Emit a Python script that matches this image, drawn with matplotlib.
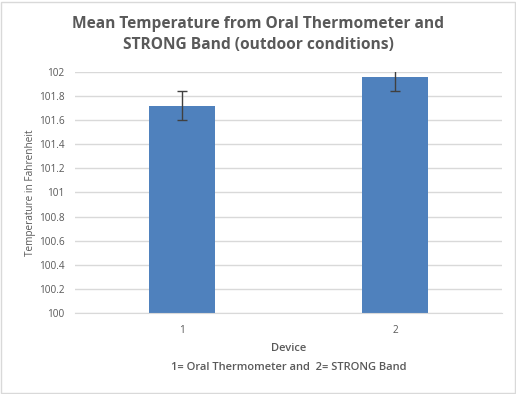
import matplotlib

matplotlib.use("Agg")
import matplotlib.pyplot as plt
from matplotlib.patches import Rectangle

devices = ["1", "2"]
means = [101.72, 101.96]
errors = [0.12, 0.12]
yticks = [100, 100.2, 100.4, 100.6, 100.8, 101, 101.2, 101.4, 101.6, 101.8, 102]
ytick_labels = ["100", "100.2", "100.4", "100.6", "100.8", "101", "101.2", "101.4", "101.6", "101.8", "102"]

plt.rcParams["font.family"] = ["Open Sans", "DejaVu Sans"]
text_col = "#595959"

fig = plt.figure(figsize=(5.16, 3.94), dpi=100)
fig.patches.append(Rectangle((0.002, 0.002), 0.996, 0.994, transform=fig.transFigure,
                             fill=False, edgecolor="#d9d9d9", lw=1.0))

ax = fig.add_axes([0.1463, 0.2056, 0.8256, 0.6117])
x = [1, 2]
ax.bar(x, [m - 100 for m in means], bottom=100, width=0.31, color="#4f81bd", zorder=2)
ax.errorbar(x, means, yerr=errors, fmt="none", ecolor="#404040", elinewidth=1.0,
            capsize=3.5, capthick=1.0, zorder=3, clip_on=True)

ax.set_xlim(0.5, 2.5)
ax.set_ylim(100, 102)
ax.set_yticks(yticks)
ax.set_yticklabels(ytick_labels)
ax.set_xticks(x)
ax.set_xticklabels(devices)
ax.grid(axis="y", color="#d9d9d9", lw=1.0, zorder=0)
for s in ["top", "right", "left"]:
    ax.spines[s].set_visible(False)
ax.spines["bottom"].set_color("#d9d9d9")
ax.tick_params(axis="both", length=0, labelsize=7.2, labelcolor=text_col, pad=8)
ax.tick_params(axis="x", pad=9)

ax.set_ylabel("Temperature in Fahrenheit", fontsize=7.2, color=text_col, labelpad=2)
ax.set_xlabel("Device\n1= Oral Thermometer and  2= STRONG Band", fontsize=8,
              color=text_col, labelpad=5, fontweight="semibold", linespacing=2.0)

fig.text(0.5, 0.912, "Mean Temperature from Oral Thermometer and\nSTRONG Band (outdoor conditions)",
         ha="center", va="center", fontsize=11.2, fontweight="bold", color=text_col, linespacing=1.45)

fig.savefig("out.png", dpi=100)
